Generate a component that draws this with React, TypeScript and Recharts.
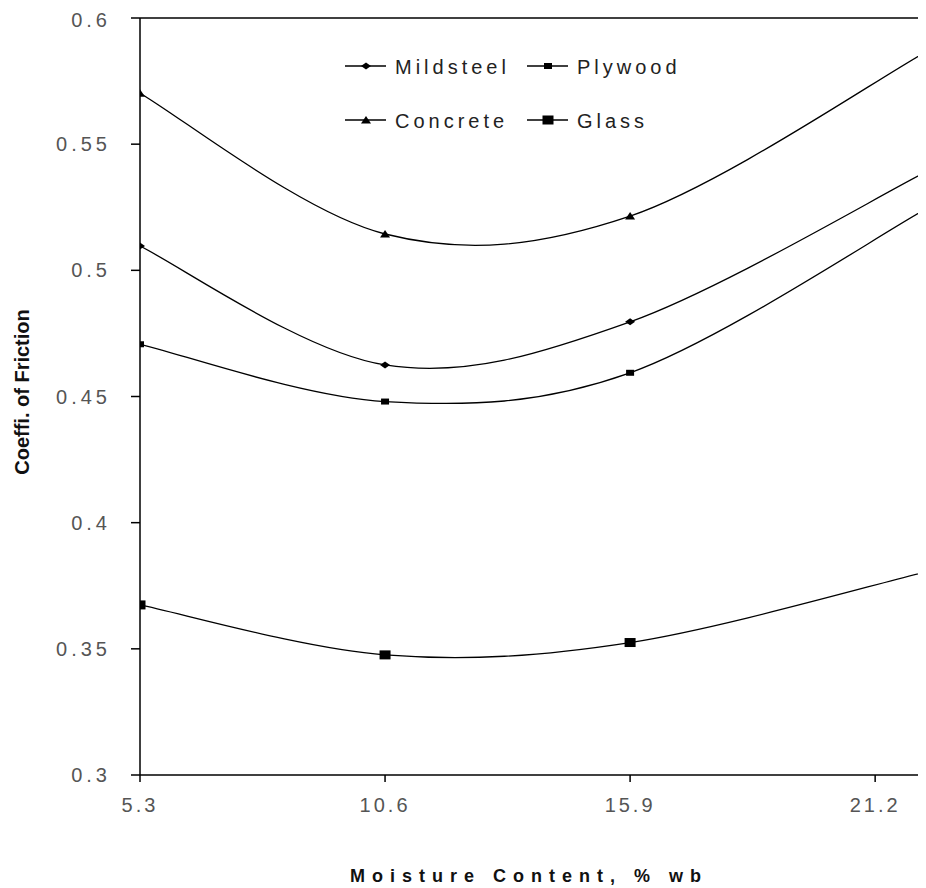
import React from 'react';
import { LineChart, Line, XAxis, YAxis, ReferenceLine, Legend, Label } from 'recharts';

const moisture = [5.3, 10.6, 15.9, 22.3];
const mildsteel = [0.5096, 0.4625, 0.4796, 0.539];
const plywood = [0.4707, 0.448, 0.4594, 0.5243];
const concrete = [0.5702, 0.5144, 0.5215, 0.5866];
const glass = [0.3674, 0.3476, 0.3525, 0.3805];
const xTicks = [5.3, 10.6, 15.9, 21.2];
const yTicks = [0.3, 0.35, 0.4, 0.45, 0.5, 0.55, 0.6];
const seriesNames = ['Mildsteel', 'Plywood', 'Concrete', 'Glass'];

const data = moisture.map((m, i) => ({
  m,
  Mildsteel: mildsteel[i],
  Plywood: plywood[i],
  Concrete: concrete[i],
  Glass: glass[i],
}));

const FONT = '"Liberation Sans", Arial, sans-serif';

// Excel-like smoothed line (Catmull-Rom style bezier through points)
const excelSmooth: any = (context: any) => {
  let pts: number[][] = [];
  return {
    areaStart() {},
    areaEnd() {},
    lineStart() {
      pts = [];
    },
    point(x: number, y: number) {
      pts.push([+x, +y]);
    },
    lineEnd() {
      const n = pts.length;
      if (!n) return;
      context.moveTo(pts[0][0], pts[0][1]);
      const t = 1 / 6;
      for (let i = 0; i < n - 1; i++) {
        const p0 = pts[i - 1] || pts[i];
        const p1 = pts[i];
        const p2 = pts[i + 1];
        const p3 = pts[i + 2] || p2;
        context.bezierCurveTo(
          p1[0] + (p2[0] - p0[0]) * t,
          p1[1] + (p2[1] - p0[1]) * t,
          p2[0] - (p3[0] - p1[0]) * t,
          p2[1] - (p3[1] - p1[1]) * t,
          p2[0],
          p2[1]
        );
      }
    },
  };
};

const drawMarker = (name: string, cx: number, cy: number, key?: any) => {
  if (name === 'Mildsteel') {
    return <path key={key} d={`M${cx - 5},${cy} L${cx},${cy - 3.5} L${cx + 5},${cy} L${cx},${cy + 3.5} Z`} fill="#000" />;
  }
  if (name === 'Plywood') {
    return <rect key={key} x={cx - 4} y={cy - 3} width={8} height={6} fill="#000" />;
  }
  if (name === 'Concrete') {
    return <path key={key} d={`M${cx - 5},${cy + 3.5} L${cx},${cy - 4} L${cx + 5},${cy + 3.5} Z`} fill="#000" />;
  }
  return <rect key={key} x={cx - 5.5} y={cy - 4.5} width={11} height={9} fill="#000" />;
};

const makeDot = (name: string) => (props: any) => {
  const { cx, cy, index } = props;
  if (cx == null || cy == null) return <g key={`${name}-${index}`} />;
  return drawMarker(name, cx, cy, `${name}-${index}`);
};

const LegendContent = () => {
  const rows = [
    [seriesNames[0], seriesNames[1]],
    [seriesNames[2], seriesNames[3]],
  ];
  const colX = [7, 189];
  const rowY = [18, 72];
  return (
    <svg width={400} height={100} style={{ display: 'block' }}>
      {rows.map((r, ri) =>
        r.map((name, ci) => (
          <g key={name}>
            <line x1={colX[ci]} x2={colX[ci] + 41} y1={rowY[ri]} y2={rowY[ri]} stroke="#000" strokeWidth={1.3} />
            {drawMarker(name, colX[ci] + 21, rowY[ri])}
            <text
              x={colX[ci] + 50}
              y={rowY[ri] + 7.5}
              fontSize={20}
              fontFamily={FONT}
              letterSpacing={4}
              fill="#222"
            >
              {name}
            </text>
          </g>
        ))
      )}
    </svg>
  );
};

export default function App() {
  return (
    <LineChart
      width={918}
      height={880}
      data={data}
      margin={{ top: 10, right: 0, left: 0, bottom: 0 }}
      style={{ fontFamily: FONT }}
    >
      <XAxis
        dataKey="m"
        type="number"
        domain={[5.3, 22.3]}
        ticks={xTicks}
        allowDataOverflow
        height={113}
        tickSize={7}
        tickMargin={16}
        stroke="#000"
        strokeWidth={1.5}
        tickFormatter={(v: number) => v.toFixed(1)}
        tick={{ fontSize: 20, fill: '#555', letterSpacing: 3, fontFamily: FONT }}
      >
        <Label
          content={() => (
            <text
              x={521}
              y={874}
              textAnchor="middle"
              fontSize={18}
              fontWeight="bold"
              fontFamily={FONT}
              letterSpacing={7}
              fill="#111"
            >
              Moisture Content, %  wb
            </text>
          )}
        />
      </XAxis>
      <YAxis
        type="number"
        domain={[0.3, 0.6]}
        ticks={yTicks}
        width={132}
        tickSize={9}
        tickMargin={20}
        stroke="#000"
        strokeWidth={1.5}
        tickFormatter={(v: number) => String(+v.toFixed(2))}
        tick={{ fontSize: 20, fill: '#555', letterSpacing: 4, fontFamily: FONT }}
      >
        <Label
          content={() => (
            <text
              x={21}
              y={384}
              textAnchor="middle"
              fontSize={20}
              fontWeight="bold"
              fontFamily={FONT}
              fill="#111"
              transform="rotate(-90 21 384)"
            >
              Coeffi. of Friction
            </text>
          )}
        />
      </YAxis>
      <ReferenceLine y={0.6} stroke="#000" strokeWidth={1.5} />
      <Legend
        content={LegendContent}
        layout="horizontal"
        verticalAlign="middle"
        align="center"
        wrapperStyle={{ position: 'absolute', left: 330, top: 40, width: 400, height: 100 }}
      />
      {seriesNames.map((name) => (
        <Line
          key={name}
          dataKey={name}
          type={excelSmooth}
          stroke="#000"
          strokeWidth={1.3}
          dot={makeDot(name)}
          activeDot={false}
          isAnimationActive={false}
        />
      ))}
    </LineChart>
  );
}
